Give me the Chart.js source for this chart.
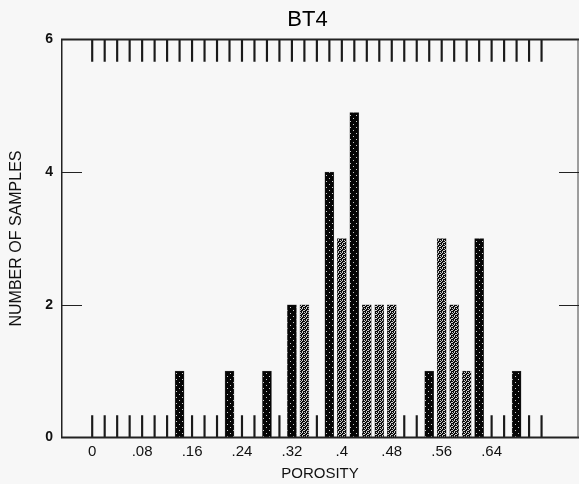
<!DOCTYPE html>
<html>
<head>
<meta charset="utf-8">
<script src="https://cdn.jsdelivr.net/npm/chart.js@4/dist/chart.umd.min.js"></script>
<style>
  html, body { margin: 0; padding: 0; background: #f7f7f7; }
  #wrap { width: 579px; height: 484px; }
</style>
</head>
<body>
<div id="wrap"><canvas id="c" width="579" height="484"></canvas></div>
<script>
// ---- data ----
const chartTitle = 'BT4';
const xTitle = 'POROSITY';
const yTitle = 'NUMBER OF SAMPLES';

// dark (solid black) bars
const porosityDark = [0.14, 0.22, 0.28, 0.32, 0.38, 0.42, 0.54, 0.62, 0.68];
const samplesDark  = [1, 1, 1, 2, 4, 4.9, 1, 3, 1];

// stippled bars
const porosityStipple = [0.34, 0.40, 0.44, 0.46, 0.48, 0.56, 0.58, 0.60];
const samplesStipple  = [2, 3, 2, 2, 2, 3, 2, 1];

// rug tick positions (top and bottom of the frame)
const rugPositions = [0, 0.02, 0.04, 0.06, 0.08, 0.10, 0.12, 0.14, 0.16, 0.18, 0.20,
  0.22, 0.24, 0.26, 0.28, 0.30, 0.32, 0.34, 0.36, 0.38, 0.40, 0.42, 0.44, 0.46,
  0.48, 0.50, 0.52, 0.54, 0.56, 0.58, 0.60, 0.62, 0.64, 0.66, 0.68, 0.70, 0.72];
const rugLength = 0.33;

const xTickValues = [0, 0.08, 0.16, 0.24, 0.32, 0.40, 0.48, 0.56, 0.64];
const xTickLabels = ['0', '.08', '.16', '.24', '.32', '.4', '.48', '.56', '.64'];
const yTickValues = [0, 2, 4, 6];
const yInnerTicks = [2, 4];
const yMax = 6;

// ---- drawing ----
const canvas = document.getElementById('c');
const ctx = canvas.getContext('2d');

function makePattern(size, dots, base, dot) {
  const c = document.createElement('canvas');
  c.width = size; c.height = size;
  const g = c.getContext('2d');
  g.fillStyle = base; g.fillRect(0, 0, size, size);
  g.fillStyle = dot;
  dots.forEach(([x, y]) => g.fillRect(x, y, 1, 1));
  return ctx.createPattern(c, 'repeat');
}
const darkPattern = makePattern(6, [[2, 1], [5, 4]], '#050505', '#cfcfcf');
const stipplePattern = makePattern(4, [[0, 0], [2, 0], [1, 1], [3, 2], [2, 3], [0, 2]], '#0a0a0a', '#d0d0d0');

const FONT = "'Liberation Sans', Arial, Helvetica, sans-serif";

const framePlugin = {
  id: 'frame',
  afterLayout(chart) {
    const t = chart.titleBlock;
    if (t) { t.left = 0; t.right = 615; }
  },
  beforeDraw(chart) {
    const c = chart.ctx;
    c.save();
    c.fillStyle = '#f7f7f7';
    c.fillRect(0, 0, chart.width, chart.height);
    c.restore();
  },
  afterDatasetsDraw(chart) {
    const c = chart.ctx;
    const { left, right, top, bottom } = chart.chartArea;
    const y = chart.scales.y;
    c.save();
    c.strokeStyle = '#222';
    c.lineWidth = 1.5;
    c.beginPath(); c.moveTo(left + 0.75, top); c.lineTo(left + 0.75, bottom); c.stroke();
    c.lineWidth = 2.2;
    c.beginPath(); c.moveTo(left, top); c.lineTo(right, top); c.stroke();
    c.lineWidth = 2;
    c.beginPath(); c.moveTo(left, bottom); c.lineTo(right, bottom); c.stroke();
    c.lineWidth = 1;
    c.strokeStyle = '#444';
    c.beginPath(); c.moveTo(right - 1, top); c.lineTo(right - 1, bottom); c.stroke();
    c.strokeStyle = '#222';
    c.lineWidth = 1;
    yInnerTicks.forEach(v => {
      const py = Math.round(y.getPixelForValue(v)) + 0.5;
      c.beginPath(); c.moveTo(left, py); c.lineTo(left + 21, py); c.stroke();
      c.beginPath(); c.moveTo(right - 20, py); c.lineTo(right, py); c.stroke();
    });
    c.restore();
  }
};

new Chart(canvas, {
  type: 'bar',
  data: {
    datasets: [
      {
        label: 'dark',
        data: porosityDark.map((x, i) => ({ x, y: samplesDark[i] })),
        backgroundColor: darkPattern,
        borderColor: '#555',
        borderWidth: 0.5,
        barThickness: 9,
        grouped: false,
        order: 0
      },
      {
        label: 'stippled',
        data: porosityStipple.map((x, i) => ({ x, y: samplesStipple[i] })),
        backgroundColor: stipplePattern,
        borderColor: '#555',
        borderWidth: 0.5,
        barThickness: 9,
        grouped: false,
        order: 1
      },
      {
        label: 'rug bottom',
        data: rugPositions.map(x => ({ x, y: rugLength })),
        backgroundColor: '#1a1a1a',
        borderWidth: 0,
        barThickness: 1.5,
        grouped: false,
        order: 2
      },
      {
        label: 'rug top',
        data: rugPositions.map(x => ({ x, y: [yMax - rugLength, yMax] })),
        backgroundColor: '#1a1a1a',
        borderWidth: 0,
        barThickness: 1.5,
        grouped: false,
        order: 2
      }
    ]
  },
  options: {
    responsive: false,
    animation: false,
    layout: { padding: { left: 0, right: 0, top: 0, bottom: 0 } },
    plugins: {
      legend: { display: false },
      tooltip: { enabled: false },
      title: {
        display: true,
        text: chartTitle,
        color: '#000',
        font: { family: FONT, size: 22, weight: 'normal' },
        padding: { top: 6.3, bottom: 6.8 }
      }
    },
    scales: {
      x: {
        type: 'linear',
        min: -0.05,
        max: 0.78,
        offset: false,
        grid: { display: false, drawTicks: false },
        border: { display: false },
        afterBuildTicks: s => { s.ticks = xTickValues.map(v => ({ value: v })); },
        ticks: {
          color: '#111',
          font: { family: FONT, size: 15 },
          padding: 5.5,
          maxRotation: 0,
          autoSkip: false,
          callback: (v) => {
            const i = xTickValues.findIndex(t => Math.abs(t - v) < 1e-9);
            return i >= 0 ? xTickLabels[i] : '';
          }
        },
        title: {
          display: true,
          text: xTitle,
          color: '#111',
          font: { family: FONT, size: 15 },
          padding: { top: 0, bottom: 1.5 }
        },
        afterFit: s => { s.height = 46.5; }
      },
      y: {
        min: 0,
        max: yMax,
        grid: { display: false, drawTicks: false },
        border: { display: false },
        afterBuildTicks: s => { s.ticks = yTickValues.map(v => ({ value: v })); },
        ticks: {
          color: '#111',
          font: { family: FONT, size: 14, weight: 'bold' },
          padding: 8
        },
        title: {
          display: true,
          text: yTitle,
          color: '#111',
          font: { family: FONT, size: 16 },
          padding: { top: 7, bottom: 0 }
        },
        afterFit: s => { s.width = 61; }
      }
    }
  },
  plugins: [framePlugin]
});
</script>
</body>
</html>
